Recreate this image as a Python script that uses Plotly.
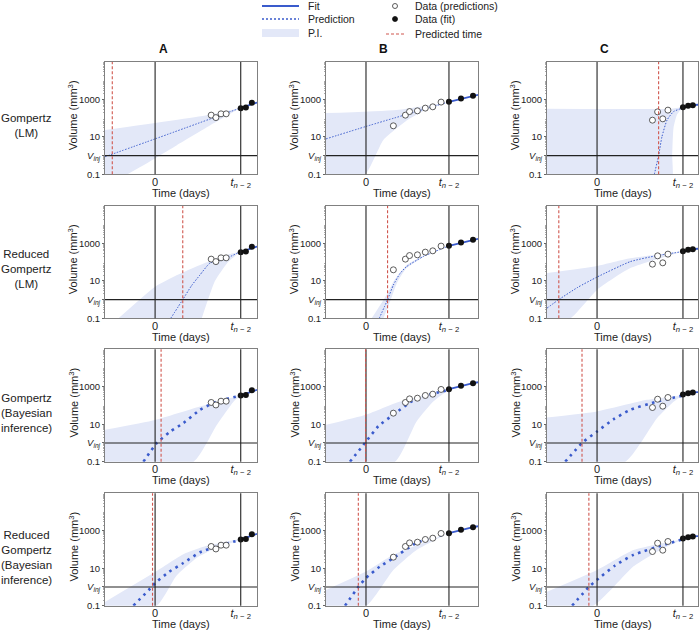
import plotly.graph_objects as go
from plotly.subplots import make_subplots

FONT = "Liberation Sans, Arial, sans-serif"
BLUE = "#3a5bcc"
BAND = "#e3e8f8"
RED = "#d0574f"

COLS = ["A", "B", "C"]
ROW_LABELS = [
    "Gompertz<br>(LM)",
    "Reduced<br>Gompertz<br>(LM)",
    "Gompertz<br>(Bayesian<br>inference)",
    "Reduced<br>Gompertz<br>(Bayesian<br>inference)",
]

T_LAST = 20  # t_{n-2}, days
V_INJ = 1  # mm3
X_RANGES = {"A": [-11.7, 23.8], "B": [-9.64, 27.0], "C": [-11.65, 23.5]}

# observed tumour volumes (days, mm3)
obs_pred_x_A = [13.1, 14.2, 15.4, 16.6]
obs_pred_y_A = [145, 107, 170, 170]
obs_fit_x_A = [20, 21.2, 22.6]
obs_fit_y_A = [343, 369, 660]

obs_pred_x_B = [6.6, 9.5, 10.5, 12.4, 14.3, 16.1, 18.1]
obs_pred_y_B = [39, 145, 225, 246, 343, 403, 720]
obs_fit_x_B = [20, 22.9, 25.8]
obs_fit_y_B = [747, 1120, 1560]

obs_pred_x_C = [12.9, 14.1, 15.3, 16.5]
obs_pred_y_C = [78, 217, 92, 268]
obs_fit_x_C = [20, 21.2, 22.3]
obs_fit_y_C = [388, 455, 496]

# model fit over the fitted window
fit_A = [(20, 350), (23.8, 680)]
fit_B = [(20, 740), (22.9, 1100), (25.8, 1550), (27, 1750)]
fit_C = [(20, 388), (21.2, 455), (22.3, 496), (23.5, 520)]

# backward predictions, one panel per model (row) and animal (column)
pred_A1 = [(-11.7, 0.87), (0, 7.8), (20, 355)]
upper_A1 = [(-11.7, 23), (12.8, 150), (20, 355)]
lower_A1 = [(-11.7, 0.05), (-6.6, 0.1), (5, 3.5), (12.8, 40), (20, 355)]

pred_B1 = [(-9.64, 7.8), (0, 36), (20, 740)]
upper_B1 = [(-9.64, 186), (7.4, 275), (20, 740)]
lower_B1 = [(-9.64, 0.05), (-0.24, 0.1), (4.2, 6.9), (10, 80), (15, 316), (20, 740)]

pred_C1 = [(13.0, 0.05), (13.33, 0.1), (14.33, 1), (15.1, 10), (16.3, 80), (17.8, 224), (19.4, 320), (20, 390)]
upper_C1 = [(-11.65, 316), (17.4, 320), (20, 390)]
lower_C1 = [(-11.65, 0.05), (17.3, 0.05), (17.5, 1), (17.8, 30), (18.6, 150), (20, 390)]

pred_A2 = [(3.66, 0.1), (6.46, 1), (8.5, 5.5), (10.5, 21), (12.8, 89), (16.6, 160), (20, 370)]
upper_A2 = [(-8.56, 0.1), (0, 4.9), (5, 20), (10.5, 71), (16, 220), (20, 370)]
lower_A2 = [(10.9, 0.1), (14, 10), (17, 100), (20, 370)]

pred_B2 = [(3.2, 0.1), (5.2, 1), (6.6, 6), (8.2, 25), (9.8, 58), (13.8, 200), (20, 740)]
upper_B2 = [(1.37, 0.1), (5.2, 2.2), (6.6, 9), (9.8, 70), (13.8, 220), (20, 740)]
lower_B2 = [(4.2, 0.1), (5.8, 0.8), (7.5, 8), (9.8, 48), (13.8, 185), (20, 740)]

pred_C2 = [(-11.65, 0.35), (-8.9, 1), (-4.5, 4.5), (0, 16), (7.75, 107), (13.95, 224), (20, 370)]
upper_C2 = [(-11.65, 26), (0, 63), (7.75, 162), (20, 370)]
lower_C2 = [(-11.65, 0.05), (-6.2, 0.1), (0, 3.3), (7.75, 48), (20, 370)]

pred_A3 = [(-2.73, 0.1), (0.4, 1), (3.5, 4), (6.6, 11.5), (10.5, 59), (14.4, 162), (20, 340)]
upper_A3 = [(-11.7, 5), (0, 17), (10.5, 89), (20, 355)]
lower_A3 = [(-11.7, 0.05), (9, 0.1), (14.4, 9), (18.3, 160), (20, 355)]

pred_B3 = [(-3.86, 0.1), (-0.24, 1), (3, 8), (6.6, 32), (12.2, 245), (20, 680)]
upper_B3 = [(-9.64, 9.3), (0, 32), (8.2, 162), (20, 700)]
lower_B3 = [(-9.64, 0.05), (7, 0.1), (12.2, 14), (16.2, 162), (20, 700)]

pred_C3 = [(-7.4, 0.1), (-3.5, 1), (0, 4.1), (3.8, 18), (7.75, 59), (13.95, 162), (20, 340)]
upper_C3 = [(-11.65, 23), (0, 48), (11.6, 200), (20, 355)]
lower_C3 = [(-11.65, 0.05), (6.6, 0.1), (13.95, 21), (17.8, 158), (20, 355)]

pred_A4 = [(-5.06, 0.1), (-0.8, 1), (0, 1.6), (3.3, 6.5), (6.6, 19), (10.5, 71), (15, 158), (20, 330)]
upper_A4 = [(-11.7, 0.16), (0, 6.3), (6.6, 56), (12, 158), (20, 355)]
lower_A4 = [(-11.7, 0.05), (0.4, 0.1), (5, 4), (10, 40), (15, 141), (20, 330)]

pred_B4 = [(-5.06, 0.1), (-1.85, 1), (0, 3), (3.3, 12), (6.6, 35), (12.2, 224), (20, 760)]
upper_B4 = [(-9.64, 0.69), (0, 6.6), (6.6, 52), (20, 760)]
lower_B4 = [(-9.64, 0.05), (0.16, 0.1), (6.6, 8), (12.2, 95), (20, 760)]

pred_C4 = [(-5.8, 0.1), (-1.9, 1), (0, 2.4), (4.2, 14), (8.5, 52), (16.3, 200), (20, 355)]
upper_C4 = [(-11.65, 0.56), (0, 8.1), (8.5, 95), (20, 355)]
lower_C4 = [(-11.65, 0.05), (-0.8, 0.1), (8.5, 12.6), (14.7, 95), (20, 355)]

# predicted injection times (days), rows 1-4
t_pred_A = [-10, 6.46, 1.4, -0.6]
t_pred_B = [None, 5.2, -0.1, -1.85]
t_pred_C = [14.33, -8.9, -3.5, -1.9]

obs = {
    "A": (obs_pred_x_A, obs_pred_y_A, obs_fit_x_A, obs_fit_y_A, fit_A, t_pred_A),
    "B": (obs_pred_x_B, obs_pred_y_B, obs_fit_x_B, obs_fit_y_B, fit_B, t_pred_B),
    "C": (obs_pred_x_C, obs_pred_y_C, obs_fit_x_C, obs_fit_y_C, fit_C, t_pred_C),
}
curves = {
    "A": [(pred_A1, upper_A1, lower_A1), (pred_A2, upper_A2, lower_A2),
          (pred_A3, upper_A3, lower_A3), (pred_A4, upper_A4, lower_A4)],
    "B": [(pred_B1, upper_B1, lower_B1), (pred_B2, upper_B2, lower_B2),
          (pred_B3, upper_B3, lower_B3), (pred_B4, upper_B4, lower_B4)],
    "C": [(pred_C1, upper_C1, lower_C1), (pred_C2, upper_C2, lower_C2),
          (pred_C3, upper_C3, lower_C3), (pred_C4, upper_C4, lower_C4)],
}

W, H = 700, 631
X_DOM = {"A": (105, 257), "B": (326, 478), "C": (547, 698)}
Y_DOM = [(62, 174.3), (206, 318.3), (349.3, 461.7), (493.3, 605.7)]

minor_vals = [m * 10 ** k for k in range(-1, 5) for m in range(2, 10)]

fig = make_subplots(rows=4, cols=3)
annotations = []

for r in range(4):
    for c, col in enumerate(COLS):
        pred, up, lo = curves[col][r]
        ox, oy, fx, fy, fit, tp = obs[col]
        kw = dict(row=r + 1, col=c + 1)
        thick = r >= 2

        band_x = [p[0] for p in up] + [p[0] for p in lo[::-1]]
        band_y = [p[1] for p in up] + [p[1] for p in lo[::-1]]
        fig.add_trace(go.Scatter(x=band_x, y=band_y, fill="toself", fillcolor=BAND,
                                 mode="lines", line=dict(width=0, shape="spline", smoothing=0.5),
                                 hoverinfo="skip", showlegend=False), **kw)
        fig.add_trace(go.Scatter(
            x=[p[0] for p in pred], y=[p[1] for p in pred], mode="lines",
            line=dict(color=BLUE, width=2.6 if thick else 1,
                      dash="2.6px,4.5px" if thick else "1.5px,1.5px",
                      shape="spline", smoothing=0.5),
            showlegend=False), **kw)
        fig.add_trace(go.Scatter(x=[p[0] for p in fit], y=[p[1] for p in fit], mode="lines",
                                 line=dict(color=BLUE, width=1.8), showlegend=False), **kw)
        fig.add_trace(go.Scatter(x=ox, y=oy, mode="markers",
                                 marker=dict(size=6, color="white", line=dict(color="#333", width=0.8)),
                                 showlegend=False), **kw)
        fig.add_trace(go.Scatter(x=fx, y=fy, mode="markers",
                                 marker=dict(size=6, color="#111"), showlegend=False), **kw)

        for xv in (0, T_LAST):
            fig.add_vline(x=xv, line=dict(color="#222", width=1.1), **kw)
        fig.add_hline(y=V_INJ, line=dict(color="#222", width=1.1), **kw)
        if tp[r] is not None:
            fig.add_vline(x=tp[r], line=dict(color=RED, width=1.1, dash="3px,2px"), **kw)

        i = r * 3 + c + 1
        x0, x1 = X_DOM[col]
        y0, y1 = Y_DOM[r]
        fig.update_layout({
            f"xaxis{i}": dict(
                domain=[x0 / W, x1 / W], range=X_RANGES[col],
                tickvals=[0, T_LAST],
                ticktext=["0", "<i>t</i><sub><i>n</i> − 2</sub>"],
                ticks="", showgrid=False, zeroline=False, ticklabelstandoff=-3,
                showline=True, mirror=True, linecolor="#808080", linewidth=1,
                tickfont=dict(size=11, color="#222"),
                automargin=False, anchor=f"y{i}",
            ),
            f"yaxis{i}": dict(
                domain=[1 - y1 / H, 1 - y0 / H], type="log", range=[-1, 5],
                tickvals=[0.1, 1, 10, 1000],
                ticktext=["0.1", "<i>V</i><sub><i>inj</i></sub>", "10", "1000"],
                ticks="outside", ticklen=2, tickcolor="#666",
                minor=dict(ticks="outside", ticklen=1.5, tickcolor="#aaa", tickvals=minor_vals),
                showgrid=False, zeroline=False,
                showline=True, mirror=True, linecolor="#808080", linewidth=1,
                tickfont=dict(size=9.5, color="#222"),
                automargin=False, anchor=f"x{i}",
            ),
        })
        annotations.append(dict(text="Time (days)", x=(x0 + x1) / 2 / W, y=1 - (y1 + 18.5) / H,
                                xref="paper", yref="paper", xanchor="center", yanchor="middle",
                                showarrow=False, font=dict(size=11, color="#222")))
        annotations.append(dict(text="Volume (mm<sup>3</sup>)", x=(x0 - 32) / W,
                                y=1 - ((y0 + y1) / 2 - 3) / H, textangle=-90,
                                xref="paper", yref="paper", xanchor="center", yanchor="middle",
                                showarrow=False, font=dict(size=11, color="#222")))

for col, xc in zip(COLS, [163, 383, 604]):
    annotations.append(dict(text=f"<b>{col}</b>", x=xc / W, y=1 - 49 / H, xref="paper", yref="paper",
                            xanchor="center", yanchor="middle",
                            showarrow=False, font=dict(size=12, color="#111")))
for label, yc in zip(ROW_LABELS, [125, 269, 413, 557]):
    annotations.append(dict(text=label, x=26 / W, y=1 - yc / H, xref="paper", yref="paper",
                            xanchor="center", yanchor="middle",
                            showarrow=False, align="center", font=dict(size=11.5, color="#222")))

# legend drawn by hand in two columns
legend_left = [("Fit", 6), ("Prediction", 19), ("P.I.", 33)]
legend_right = [("Data (predictions)", 6), ("Data (fit)", 19), ("Predicted time", 34)]
for text, yy in legend_left:
    annotations.append(dict(text=text, x=306 / W, y=1 - yy / H, xref="paper", yref="paper",
                            xanchor="left", yanchor="middle",
                            showarrow=False, font=dict(size=10.5, color="#222")))
for text, yy in legend_right:
    annotations.append(dict(text=text, x=413 / W, y=1 - yy / H, xref="paper", yref="paper",
                            xanchor="left", yanchor="middle",
                            showarrow=False, font=dict(size=10.5, color="#222")))

shapes = [
    dict(type="line", xref="paper", yref="paper", x0=262 / W, x1=299 / W, y0=1 - 6 / H, y1=1 - 6 / H,
         line=dict(color=BLUE, width=2)),
    dict(type="line", xref="paper", yref="paper", x0=262 / W, x1=299 / W, y0=1 - 19 / H, y1=1 - 19 / H,
         line=dict(color=BLUE, width=1.5, dash="2px,2px")),
    dict(type="rect", xref="paper", yref="paper", x0=262 / W, x1=299 / W, y0=1 - 37 / H, y1=1 - 29 / H,
         fillcolor=BAND, line=dict(width=0)),
    dict(type="circle", xref="paper", yref="paper", x0=392.5 / W, x1=397.5 / W, y0=1 - 8.5 / H, y1=1 - 3.5 / H,
         fillcolor="white", line=dict(color="#333", width=0.8)),
    dict(type="circle", xref="paper", yref="paper", x0=392.5 / W, x1=397.5 / W, y0=1 - 21.5 / H, y1=1 - 16.5 / H,
         fillcolor="#111", line=dict(color="#111", width=0.8)),
    dict(type="line", xref="paper", yref="paper", x0=386 / W, x1=404 / W, y0=1 - 34 / H, y1=1 - 34 / H,
         line=dict(color=RED, width=1.1, dash="3px,2px")),
]

fig.update_layout(
    width=W, height=H, template="none",
    margin=dict(l=0, r=0, t=0, b=0),
    paper_bgcolor="white", plot_bgcolor="white",
    font=dict(family=FONT, color="#222"),
    showlegend=False,
    annotations=list(fig.layout.annotations) + annotations,
    shapes=list(fig.layout.shapes) + shapes,
)

fig.write_html("out.html", config={"displayModeBar": False},
               post_script="document.body.style.margin = '0';")
